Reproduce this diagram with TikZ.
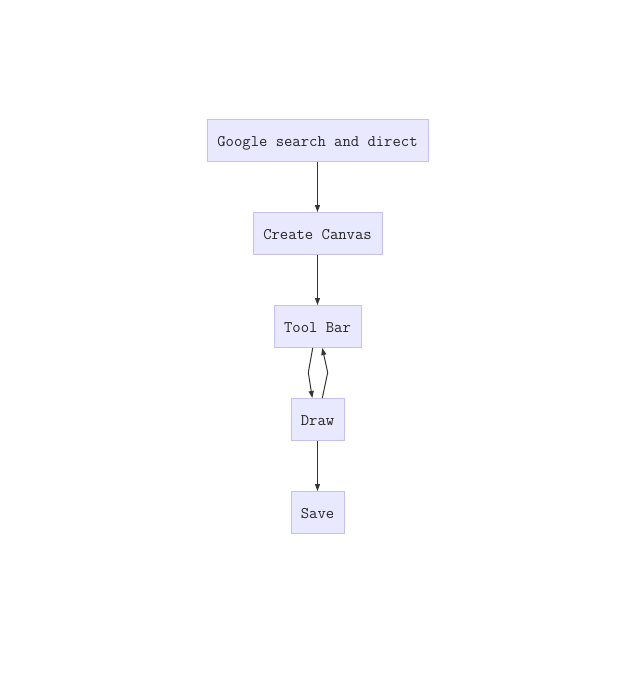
\documentclass[tikz,border=0pt]{standalone}
\usetikzlibrary{arrows.meta}
\definecolor{boxfill}{HTML}{E8E8FF}
\definecolor{boxline}{HTML}{C4C0F6}
\definecolor{edge}{HTML}{333333}
\begin{document}
\begin{tikzpicture}[x=1pt,y=-1pt,
  box/.style={draw=boxline,fill=boxfill,line width=1pt,inner xsep=0pt,inner ysep=0pt,
    text height=11pt,text depth=0pt,
    minimum height=42pt,font=\ttfamily\fontsize{16.2}{18}\selectfont,text=black!85},
  flow/.style={draw=edge,line width=1pt,-{Triangle[length=7pt,width=5pt]}}]
\useasboundingbox (0,0) rectangle (635,697);
\node[box,minimum width=221pt] (g) at (317.5,140.5) {Google search and direct};
\node[box,minimum width=129pt] (c) at (317.5,233.5) {Create Canvas};
\node[box,minimum width=87pt] (t) at (317.5,326.5) {Tool Bar};
\node[box,minimum width=53pt] (d) at (317.5,419.5) {Draw};
\node[box,minimum width=53pt] (s) at (317.5,512.5) {Save};
\coordinate (m1) at (308.3,372.5);
\coordinate (m2) at (327.7,372.5);
\draw[flow] (g) -- (c);
\draw[flow] (c) -- (t);
\draw[flow] ([xshift=-4.8pt]t.south) -- (m1) -- ([xshift=-5.2pt]d.north);
\draw[flow] ([xshift=4.8pt]d.north) -- (m2) -- ([xshift=4.8pt]t.south);
\draw[flow] (d) -- (s);
\end{tikzpicture}
\end{document}
